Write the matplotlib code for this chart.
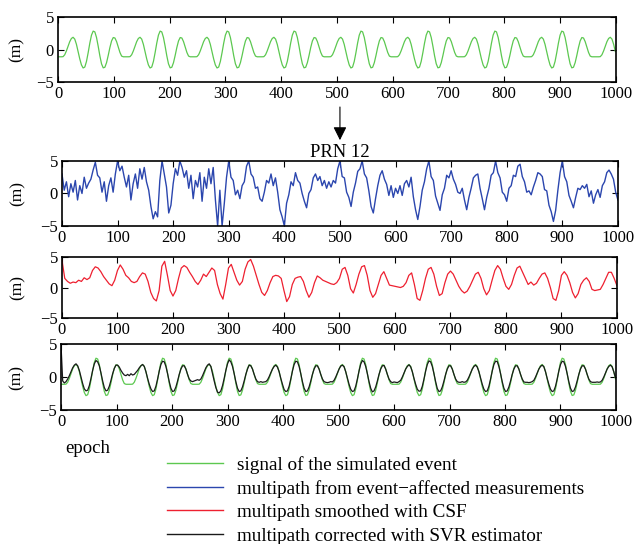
import numpy as np
import matplotlib
matplotlib.use("Agg")
import matplotlib.pyplot as plt
from matplotlib.lines import Line2D

plt.rcParams['font.family'] = ['Liberation Serif', 'DejaVu Serif']

# epochs: green / black read every 3, red every 5, blue every 4
epochs3 = np.arange(0, 1000, 3)
epochs4 = np.arange(0, 1001, 4)
epochs5 = np.arange(0, 1001, 5)

# signal of the simulated event
signal = [
    -1.1, -1.1, -1.1, -1.08, -0.79, -0.2, 0.52, 1.23, 1.72, 1.9, 1.62, 0.82, -0.28, -1.43, -2.35, -2.82, -2.68, -1.82, -0.48, 1.0,
    2.23, 2.85, 2.73, 1.87, 0.53, -0.95, -2.18, -2.8, -2.71, -2.0, -0.89, 0.33, 1.34, 1.86, 1.79, 1.23, 0.4, -0.43, -0.99, -1.1,
    -1.1, -1.1, -1.1, -1.08, -0.79, -0.2, 0.52, 1.23, 1.72, 1.9, 1.62, 0.82, -0.28, -1.43, -2.35, -2.82, -2.68, -1.82, -0.48, 1.0,
    2.23, 2.85, 2.73, 1.87, 0.53, -0.95, -2.18, -2.8, -2.71, -2.0, -0.89, 0.33, 1.34, 1.86, 1.79, 1.23, 0.4, -0.43, -0.99, -1.1,
    -1.1, -1.1, -1.1, -1.08, -0.79, -0.2, 0.52, 1.23, 1.72, 1.9, 1.62, 0.82, -0.28, -1.43, -2.35, -2.82, -2.68, -1.82, -0.48, 1.0,
    2.23, 2.85, 2.73, 1.87, 0.53, -0.95, -2.18, -2.8, -2.71, -2.0, -0.89, 0.33, 1.34, 1.86, 1.79, 1.23, 0.4, -0.43, -0.99, -1.1,
    -1.1, -1.1, -1.1, -1.08, -0.79, -0.2, 0.52, 1.23, 1.72, 1.9, 1.62, 0.82, -0.28, -1.43, -2.35, -2.82, -2.68, -1.82, -0.48, 1.0,
    2.23, 2.85, 2.73, 1.87, 0.53, -0.95, -2.18, -2.8, -2.71, -2.0, -0.89, 0.33, 1.34, 1.86, 1.79, 1.23, 0.4, -0.43, -0.99, -1.1,
    -1.1, -1.1, -1.1, -1.08, -0.79, -0.2, 0.52, 1.23, 1.72, 1.9, 1.62, 0.82, -0.28, -1.43, -2.35, -2.82, -2.68, -1.82, -0.48, 1.0,
    2.23, 2.85, 2.73, 1.87, 0.53, -0.95, -2.18, -2.8, -2.71, -2.0, -0.89, 0.33, 1.34, 1.86, 1.79, 1.23, 0.4, -0.43, -0.99, -1.1,
    -1.1, -1.1, -1.1, -1.08, -0.79, -0.2, 0.52, 1.23, 1.72, 1.9, 1.62, 0.82, -0.28, -1.43, -2.35, -2.82, -2.68, -1.82, -0.48, 1.0,
    2.23, 2.85, 2.73, 1.87, 0.53, -0.95, -2.18, -2.8, -2.71, -2.0, -0.89, 0.33, 1.34, 1.86, 1.79, 1.23, 0.4, -0.43, -0.99, -1.1,
    -1.1, -1.1, -1.1, -1.08, -0.79, -0.2, 0.52, 1.23, 1.72, 1.9, 1.62, 0.82, -0.28, -1.43, -2.35, -2.82, -2.68, -1.82, -0.48, 1.0,
    2.23, 2.85, 2.73, 1.87, 0.53, -0.95, -2.18, -2.8, -2.71, -2.0, -0.89, 0.33, 1.34, 1.86, 1.79, 1.23, 0.4, -0.43, -0.99, -1.1,
    -1.1, -1.1, -1.1, -1.08, -0.79, -0.2, 0.52, 1.23, 1.72, 1.9, 1.62, 0.82, -0.28, -1.43, -2.35, -2.82, -2.68, -1.82, -0.48, 1.0,
    2.23, 2.85, 2.73, 1.87, 0.53, -0.95, -2.18, -2.8, -2.71, -2.0, -0.89, 0.33, 1.34, 1.86, 1.79, 1.23, 0.4, -0.43, -0.99, -1.1,
    -1.1, -1.1, -1.1, -1.1, -1.08, -0.79, -0.2, 0.52, 1.23, 1.72, 1.9, 1.62, 0.82, -0.28,
]

# multipath from event-affected measurements
measured = [
    3.0, 0.5, 1.8, -0.5, 1.5, 0.2, 2.0, -1.0, 1.2, 0.0, 2.5, 0.8, 1.6,
    2.2, 3.6, 4.8, 2.8, 2.4, 0.2, 1.8, -1.2, 1.2, 2.4, 0.2, 3.0,
    5.0, 3.5, 4.2, 2.5, 1.0, 2.8, -1.0, 1.5, 3.0, 0.8, 3.8, 2.2, 4.0,
    1.8, 0.5, -2.0, -3.9, -2.8, -3.6, 2.0, 5.0, 3.0, 1.0, -3.0, -1.8,
    1.5, 3.8, 2.8, 5.0, 4.0, 2.5, 3.5, 0.8, 2.8, -0.8, 2.0, 1.0, 3.2,
    -1.2, 2.5, 0.8, 3.8, 1.5, 4.0, -1.0, -5.0, 0.5, -5.0, -1.5, 2.5,
    5.0, 2.5, 2.0, -0.2, 0.5, -0.8, 1.2, 1.8, 4.2, 5.0, 3.0, 2.5, 0.8,
    1.0, -0.8, -1.2, 0.2, 2.0, 1.6, 3.0, 1.2, 2.4, 0.2, -2.5, -3.6,
    -5.0, -1.5, -0.2, 1.8, 1.2, 3.2, 2.0, 1.6, 0.0, -1.2, -2.2, 0.0, 0.6,
    2.4, 3.0, 2.0, 2.6, 1.2, 2.0, 0.8, 1.8, 1.0, 2.0, 1.6, 3.8,
    5.0, 2.6, 2.4, 0.2, -0.6, -2.0, 0.2, 1.6, 3.4, 3.8, 5.0, 3.0, 2.4,
    0.4, -2.0, -3.0, -0.8, 1.2, 2.8, 3.5, 2.2, 1.4, -0.3, 1.2, -0.6,
    0.8, 0.0, 1.2, -0.3, 1.5, 2.0, 1.0, 2.5, -0.5, -2.5, -4.0, -2.0, 0.5,
    1.8, 3.8, 5.0, 2.6, 2.0, -0.4, -1.5, -2.6, -0.2, 0.8, 2.8, 2.4,
    3.5, 2.2, 1.4, 0.2, 0.0, 0.8, -1.0, -2.5, -0.6, 0.8, 2.4, 2.8, 3.0,
    0.8, -0.8, -2.5, -0.6, 0.8, 2.8, 3.2, 5.0, 3.2, 2.4, 0.2, -0.2,
    -1.2, 0.8, 1.2, 2.8, 2.6, 4.2, 4.5, 2.6, 1.8, 0.2, 0.4, -0.2, 1.0,
    2.0, 3.2, 3.0, 2.6, 0.6, 0.4, -1.8, -2.8, -4.3, -2.6, 0.5, 3.2,
    5.0, 2.6, 1.8, -0.3, -1.2, -2.2, -0.6, 0.8, 0.6, 1.2, 0.8, 1.4, -0.5,
    0.4, -1.5, -0.2, 0.6, -0.6, 1.2, 1.8, 3.2, 3.6, 3.0, 2.2, 0.2, -1.0,
]

# multipath smoothed with CSF
smoothed = [
    4.5, 1.5, 1.0, 0.7, 0.9, 0.8, 1.2, 1.0, 1.6, 1.3, 1.6, 2.8, 3.4, 3.2, 2.6, 1.8, 1.2, 0.6, 0.3, 1.2,
    2.8, 3.7, 3.0, 2.0, 1.6, 1.0, 0.8, 1.0, 1.8, 2.4, 2.2, 1.0, -0.8, -1.8, -2.2, -0.5, 3.5, 4.3, 2.0, -0.5,
    -1.4, -0.5, 1.5, 3.2, 3.6, 3.3, 2.5, 1.8, 1.0, 0.5, 1.2, 2.2, 1.8, 2.5, 3.2, 2.8, 0.5, -1.0, -1.9, 0.5,
    3.2, 3.8, 2.5, 1.2, 0.4, 1.0, 3.0, 4.2, 4.6, 3.5, 2.0, 0.5, -0.8, -1.3, -0.5, 0.8, 1.8, 2.0, 1.9, 1.5,
    -0.5, -2.3, -1.5, 0.5, 1.5, 1.7, 1.8, 1.0, -0.5, -1.6, -0.8, 0.8, 1.9, 1.6, 1.2, 1.0, 0.8, 0.6, 0.5, 0.8,
    1.5, 3.0, 3.3, 2.0, -0.2, -0.9, 0.5, 2.2, 3.4, 3.6, 2.0, -0.5, -1.6, -1.0, 0.5, 2.0, 2.6, 1.5, 0.4, 0.3,
    0.2, 0.1, 0.0, 0.2, 0.8, 2.0, 2.4, 0.5, -1.8, -2.1, -0.5, 1.5, 3.0, 3.3, 2.2, 0.2, -1.3, -1.0, 0.8, 2.2,
    2.7, 2.2, 1.2, 0.2, -0.5, -0.9, -0.6, 0.2, 1.2, 2.2, 2.5, 1.5, -0.2, -1.2, -0.5, 1.2, 2.8, 3.6, 3.0, 1.5,
    0.2, -0.3, 0.5, 2.0, 3.2, 3.5, 2.5, 1.5, 0.5, 0.9, 0.4, 0.7, 1.5, 2.2, 2.4, 1.5, 0.0, -1.8, -2.1, -0.5,
    2.0, 2.6, 2.0, 0.8, -0.8, -1.7, -1.0, 0.5, 1.2, 1.6, 1.0, -0.3, -0.5, -0.4, -0.3, 0.5, 1.5, 2.5, 2.5, 1.5,
    0.3,
]

# multipath corrected with SVR estimator
corrected = [
    4.8, -0.6, -0.9, -0.7, -0.3, 0.2, 0.8, 1.4, 1.8, 2.0, 1.7, 1.0, 0.0, -1.0, -1.8, -2.1, -2.0, -1.3, -0.2, 1.0,
    2.0, 2.5, 2.3, 1.7, 0.6, -0.6, -1.6, -2.1, -2.0, -1.4, -0.5, 0.5, 1.3, 1.8, 1.8, 1.5, 1.0, 0.6, 0.3, 0.2,
    0.4, 0.2, 0.5, 0.3, 0.4, 0.7, 1.0, 1.4, 1.7, 1.9, 1.6, 0.8, -0.2, -1.1, -1.8, -2.2, -2.1, -1.4, -0.3, 0.9,
    1.9, 2.4, 2.3, 1.6, 0.5, -0.7, -1.7, -2.2, -2.1, -1.5, -0.6, 0.4, 1.2, 1.7, 1.7, 1.2, 0.4, -0.3, -0.6, -0.7,
    -0.6, -0.5, -0.4, -0.5, -0.3, 0.2, 0.8, 1.4, 1.8, 2.0, 1.6, 0.5, -0.6, -1.6, -2.3, -2.4, -2.1, -1.3, -0.2, 1.0,
    2.0, 2.6, 2.3, 1.6, 0.5, -0.7, -1.7, -2.2, -2.1, -1.5, -0.6, 0.4, 1.2, 1.8, 1.7, 1.2, 0.4, -0.3, -0.7, -0.8,
    -0.7, -0.8, -0.75, -0.7, -0.45, 0.05, 0.65, 1.2, 1.6, 1.8, 1.5, 0.8, -0.2, -1.1, -1.9, -2.2, -2.1, -1.4, -0.3, 0.9,
    1.9, 2.4, 2.3, 1.6, 0.5, -0.7, -1.7, -2.2, -2.1, -1.5, -0.6, 0.4, 1.2, 1.7, 1.7, 1.2, 0.4, -0.3, -0.7, -0.8,
    -0.85, -0.8, -0.7, -0.75, -0.5, 0.0, 0.6, 1.2, 1.65, 1.8, 1.55, 0.8, -0.15, -1.1, -1.85, -2.2, -2.1, -1.4, -0.3, 0.9,
    1.95, 2.5, 2.3, 1.6, 0.5, -0.7, -1.7, -2.25, -2.1, -1.5, -0.6, 0.4, 1.2, 1.7, 1.75, 1.2, 0.4, -0.3, -0.7, -0.85,
    -0.75, -0.8, -0.85, -0.7, -0.5, 0.0, 0.6, 1.2, 1.6, 1.85, 1.55, 0.8, -0.2, -1.1, -1.85, -2.15, -2.1, -1.4, -0.3, 0.9,
    1.9, 2.45, 2.3, 1.6, 0.5, -0.7, -1.75, -2.2, -2.1, -1.5, -0.6, 0.4, 1.2, 1.7, 1.7, 1.2, 0.4, -0.3, -0.7, -0.8,
    -0.8, -0.7, -0.8, -0.75, -0.5, 0.0, 0.6, 1.2, 1.6, 1.8, 1.5, 0.8, -0.15, -1.1, -1.85, -2.2, -2.1, -1.4, -0.3, 0.9,
    1.9, 2.4, 2.35, 1.6, 0.5, -0.7, -1.7, -2.2, -2.1, -1.5, -0.6, 0.4, 1.2, 1.7, 1.7, 1.2, 0.4, -0.3, -0.75, -0.8,
    -0.8, -0.85, -0.8, -0.7, -0.5, 0.0, 0.6, 1.2, 1.6, 1.8, 1.55, 0.8, -0.2, -1.1, -1.85, -2.2, -2.1, -1.4, -0.3, 0.9,
    1.9, 2.4, 2.3, 1.6, 0.5, -0.7, -1.7, -2.2, -2.1, -1.5, -0.6, 0.4, 1.2, 1.7, 1.7, 1.2, 0.4, -0.3, -0.7, -0.8,
    -0.8, -0.8, -0.75, -0.8, -0.75, -0.5, 0.0, 0.6, 1.2, 1.6, 1.8, 1.55, 0.8, -0.1,
]

c_green = '#5cc850'
c_blue = '#2b46ae'
c_red = '#ee2030'
c_black = '#1a1a1a'

fig = plt.figure(figsize=(6.39, 5.44), dpi=100)

ax1 = fig.add_axes([0.0908, 0.849, 0.873, 0.1195])
ax2 = fig.add_axes([0.097, 0.5846, 0.870, 0.1195])
ax3 = fig.add_axes([0.097, 0.4154, 0.8685, 0.1121])
ax4 = fig.add_axes([0.0955, 0.2463, 0.8685, 0.1213])

ax1.plot(epochs3, signal, color=c_green, lw=0.9)
ax2.plot(epochs4, measured, color=c_blue, lw=1.0)
ax3.plot(epochs5, smoothed, color=c_red, lw=0.9)
ax4.plot(epochs3, signal, color=c_green, lw=0.9)
ax4.plot(epochs3, corrected, color=c_black, lw=0.9)

for ax in (ax1, ax2, ax3, ax4):
    ax.set_xlim(0, 1000)
    ax.set_ylim(-5, 5)
    ax.set_xticks(np.arange(0, 1001, 100))
    ax.set_yticks([-5, 0, 5])
    ax.tick_params(direction='in', top=True, right=True, length=4, width=0.8,
                   labelsize=12, pad=3)
    for s in ax.spines.values():
        s.set_linewidth(1.2)
    ax.set_ylabel('(m)', fontsize=12.5)

ax1.yaxis.set_label_coords(-0.059, 0.5)
for ax in (ax2, ax3, ax4):
    ax.yaxis.set_label_coords(-0.066, 0.5)

ax2.set_title('PRN 12', fontsize=13.4, pad=3)

# arrow between the top panel and PRN 12
ax2.annotate('', xy=(500, 1.32), xycoords=('data', 'axes fraction'),
             xytext=(500, 1.83), textcoords=('data', 'axes fraction'),
             arrowprops=dict(arrowstyle='-|>', color='black', lw=0.8,
                             mutation_scale=20, shrinkA=0, shrinkB=0))

fig.text(0.138, 0.176, 'epoch', fontsize=13.5, ha='center', va='center')

handles = [
    Line2D([], [], color=c_green, lw=1),
    Line2D([], [], color=c_blue, lw=1),
    Line2D([], [], color=c_red, lw=1),
    Line2D([], [], color=c_black, lw=1),
]
labels = [
    'signal of the simulated event',
    'multipath from event\u2212affected measurements',
    'multipath smoothed with CSF',
    'multipath corrected with SVR estimator',
]
fig.legend(handles, labels, loc='upper left', bbox_to_anchor=(0.2613, 0.1623),
           frameon=False, fontsize=13.8, handlelength=2.9, handletextpad=0.73,
           labelspacing=0.32, borderaxespad=0, borderpad=0)

fig.savefig('out.png', dpi=100)
